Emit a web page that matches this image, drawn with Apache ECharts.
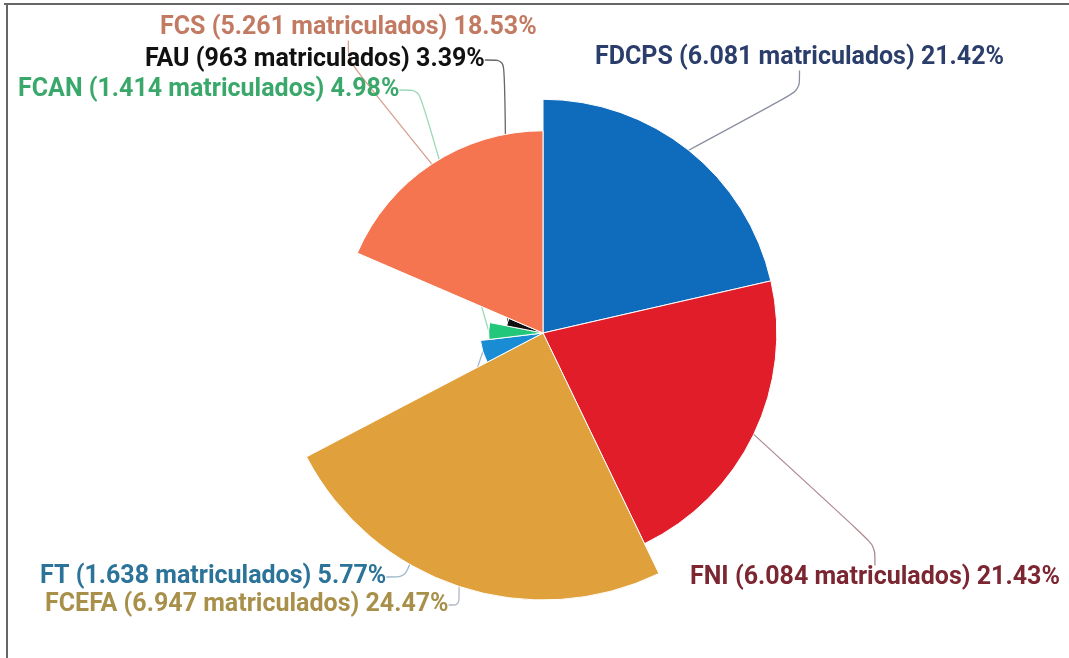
<!DOCTYPE html>
<html>
<head>
<meta charset="utf-8">
<script src="https://cdn.jsdelivr.net/npm/echarts@6/dist/echarts.min.js"></script>
<style>
  html, body { margin: 0; padding: 0; background: #fff; }
  #chart { width: 1069px; height: 658px; }
</style>
</head>
<body>
<div id="chart"></div>
<script>
// facultades, clockwise from the top
var facultades = ['FDCPS', 'FNI', 'FCEFA', 'FT', 'FCAN', 'FAU', 'FCS']
var matriculados = [6081, 6084, 6947, 1638, 1414, 963, 5261]

var sliceColors = ['#0f6cbd', '#e11d2a', '#e0a03c', '#1a8cd4', '#22c77a', '#111111', '#f4754f']
var labelColors = ['#2b3e6b', '#7b2631', '#a8904a', '#2c7399', '#3aa86a', '#111111', '#c27b62']
var lineColors = ['#8a90a0', '#b08a90', '#b0b8c4', '#9ab8cc', '#9fd8b8', '#666666', '#d9a090']
// where each label sits (left edge, vertical middle)
var labelPos = [[595, 58], [690, 578], [45, 605], [40, 577], [18, 90], [145, 60], [160, 28]]

var total = matriculados.reduce(function (a, b) { return a + b }, 0)

function miles(n) {
  return String(n).replace(/\B(?=(\d{3})+(?!\d))/g, '.')
}

var chart = echarts.init(document.getElementById('chart'))

chart.setOption({
  animation: false,
  graphic: [
    { type: 'line', shape: { x1: 4, y1: 4, x2: 1069, y2: 4 }, style: { stroke: '#666', lineWidth: 2 } },
    { type: 'line', shape: { x1: 7, y1: 4, x2: 7, y2: 658 }, style: { stroke: '#666', lineWidth: 2 } }
  ],
  series: [
    {
      type: 'pie',
      roseType: 'radius',
      center: [543, 333],
      radius: [0, 267],
      startAngle: 90,
      clockwise: true,
      itemStyle: {
        borderColor: '#fff',
        borderWidth: 1
      },
      label: {
        show: true,
        fontFamily: 'Roboto',
        fontSize: 25,
        fontWeight: 'bold',
        overflow: 'none',
        formatter: function (p) {
          var pct = (p.value / total * 100).toFixed(2)
          return p.name + ' (' + miles(p.value) + ' matriculados) ' + pct + '%'
        }
      },
      labelLine: {
        show: true,
        length: 30,
        length2: 20,
        smooth: 0.3,
        lineStyle: { width: 1.3 }
      },
      labelLayout: function (p) {
        var pos = labelPos[p.dataIndex]
        return { x: pos[0], y: pos[1], align: 'left', verticalAlign: 'middle' }
      },
      data: facultades.map(function (f, i) {
        return {
          name: f,
          value: matriculados[i],
          itemStyle: { color: sliceColors[i] },
          label: { color: labelColors[i] },
          labelLine: { lineStyle: { color: lineColors[i] } }
        }
      })
    }
  ]
})
</script>
</body>
</html>
